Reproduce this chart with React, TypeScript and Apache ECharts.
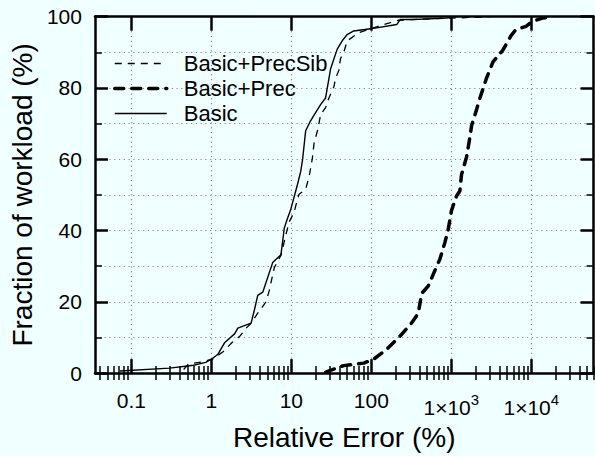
import React, { useEffect, useRef } from 'react';
import * as echarts from 'echarts';

// ---- Data ----
const basicX = [0.072, 0.3, 0.6, 0.85, 1.0, 1.21, 1.46, 1.95, 2.14, 3.14, 3.45, 3.8, 4.39, 5.84, 7.41, 7.78, 8.15, 8.78, 9.85, 11.95, 13.1, 13.8, 15.1, 17.4, 20.1, 23.3, 26.8, 31, 34.1, 37.5, 43.2, 49.9, 60.2, 97.5, 208, 229, 334, 870, 1100];
const basicY = [0.6, 1.4, 2.2, 3.0, 3.9, 5.3, 8.5, 11.0, 12.6, 14, 17.7, 21.8, 22.7, 31, 33.2, 36.9, 40.6, 42.9, 46, 53, 56.6, 59.8, 68, 70.8, 73.1, 75.4, 77.2, 85.4, 88.2, 90.9, 93.2, 95, 96, 96.6, 97.8, 99.2, 99.2, 99.6, 100];

const precSibX = [0.45, 0.52, 0.8, 1.05, 1.4, 1.8, 2.3, 2.72, 3.14, 3.8, 4.82, 5.3, 6.12, 7.4, 8.52, 9.38, 10.8, 11.95, 12.5, 15.1, 16.7, 18.3, 19.2, 21.2, 23.3, 26.8, 29.5, 34.1, 35.7, 39.3, 41.1, 45.2, 49.9, 69.6, 97.5, 142, 217, 400, 1000, 3000];
const precSibY = [1.0, 2.6, 3.2, 4.0, 6.0, 8.5, 10.5, 12.6, 14, 16.8, 20, 23.2, 29.6, 33, 38.7, 42.4, 45.1, 48.8, 50.2, 51.6, 55.2, 60.2, 64.4, 68, 72.6, 74.5, 77.2, 80.4, 82.7, 85, 88.2, 90, 93.2, 95.5, 96.6, 97.8, 99, 99.3, 99.6, 100];

const precX = [27, 45, 80.5, 107, 156, 229, 317, 387, 425, 516, 594, 718, 828, 912, 1005, 1163, 1279, 1343, 1555, 1709, 1793, 2075, 2284, 2750, 3320, 4370, 5560, 6420, 8600, 10400, 13800, 18400];
const precY = [0.3, 2.1, 2.8, 3.9, 6.7, 10.4, 14, 16.8, 22.3, 24.5, 27.7, 31.9, 36.5, 40.1, 45.6, 49.7, 51.1, 55.7, 60.7, 66.2, 69.4, 74, 77.2, 82.7, 87.3, 90.5, 94.6, 96.4, 97.3, 98.7, 99.6, 100];

const seriesNames = ['Basic+PrecSib', 'Basic+Prec', 'Basic'];
const decadeTicks = [0.1, 1, 10, 100, 1000, 10000];
const decadeLabels = ['0.1', '1', '10', '100', '{b|1×10}{s|3}', '{b|1×10}{s|4}'];
const minorDecades = [0.01, 0.1, 1, 10, 100, 1000, 10000];
const minorMultipliers = [2, 3, 4, 5, 6, 7, 8, 9];
const xMin = 0.035;
const xMax = 60000;

const FONT = '"Liberation Sans", Arial, Helvetica, sans-serif';

const zip = (xs: number[], ys: number[]) => xs.map((x, i) => [x, ys[i]]);

export default function App() {
  const ref = useRef<HTMLDivElement>(null);
  useEffect(() => {
    if (!ref.current) return;
    const chart = echarts.init(ref.current, null, { renderer: 'svg' });

    const minorTicks: number[] = [];
    minorDecades.forEach((d) => minorMultipliers.forEach((m) => minorTicks.push(+(d * m).toPrecision(6))));

    const axisLine = { show: true, onZero: false, lineStyle: { color: '#000', width: 2.5 } };
    const dotted = { show: true, lineStyle: { color: '#8a8a8a', width: 1.2, type: [1.2, 3.6] as any } };
    const fmt = (v: number) => {
      const i = decadeTicks.findIndex((d) => Math.abs(Math.log10(d) - Math.log10(v)) < 1e-6);
      return i >= 0 ? decadeLabels[i] : '';
    };

    const styles = [
      { color: '#000', width: 1.3, type: [7, 6] },
      { color: '#000', width: 3.5, type: [9, 8], cap: 'round' },
      { color: '#000', width: 1.4, type: 'solid' },
    ];
    const seriesData = [zip(precSibX, precSibY), zip(precX, precY), zip(basicX, basicY)];

    const baseX = { type: 'log' as const, logBase: 10, min: xMin, max: xMax, gridIndex: 0 };

    const option: any = {
      animation: false,
      backgroundColor: '#f0ffff',
      textStyle: { fontFamily: FONT },
      grid: { left: 92.7, right: 1.5, top: 16.7, bottom: 75, containLabel: false },
      legend: {
        data: seriesNames.map((n, i) => ({ name: n, lineStyle: { ...styles[i] } })),
        orient: 'vertical',
        left: 113,
        top: 51,
        padding: 0,
        itemGap: 0,
        itemWidth: 52,
        itemHeight: 14,
        selectedMode: false,
        itemStyle: { opacity: 0 },
        textStyle: { fontSize: 22, lineHeight: 25, color: '#000', fontFamily: FONT, padding: [0, 0, 0, 12] },
      },
      xAxis: [
        {
          ...baseX,
          position: 'bottom',
          axisLine,
          axisTick: { show: true, inside: true, length: 14, customValues: decadeTicks, lineStyle: { color: '#000', width: 2.5 } },
          axisLabel: {
            show: true,
            customValues: decadeTicks,
            formatter: fmt,
            fontSize: 21,
            margin: 17,
            color: '#000',
            fontFamily: FONT,
            rich: {
              b: { fontSize: 21, fontFamily: FONT, color: '#000', padding: [7, 0, 0, 0], verticalAlign: 'bottom' },
              s: { fontSize: 15, fontFamily: FONT, color: '#000', padding: [2, 0, 0, 0], verticalAlign: 'top' },
            },
          },
          splitLine: dotted,
          minorTick: { show: false },
          name: 'Relative Error (%)',
          nameLocation: 'middle',
          nameGap: 45,
          nameTextStyle: { fontSize: 28, color: '#000', fontFamily: FONT },
        },
        {
          ...baseX,
          position: 'bottom',
          axisLine: { show: false },
          axisTick: { show: true, inside: true, length: 7, customValues: minorTicks, lineStyle: { color: '#000', width: 1.5 } },
          axisLabel: { show: false },
          splitLine: { show: false },
        },
        {
          ...baseX,
          position: 'top',
          axisLine,
          axisTick: { show: true, inside: true, length: 14, customValues: decadeTicks, lineStyle: { color: '#000', width: 2.5 } },
          axisLabel: { show: false },
          splitLine: { show: false },
        },
        {
          ...baseX,
          position: 'top',
          axisLine: { show: false },
          axisTick: { show: true, inside: true, length: 7, customValues: minorTicks, lineStyle: { color: '#000', width: 1.5 } },
          axisLabel: { show: false },
          splitLine: { show: false },
        },
      ],
      yAxis: [
        {
          type: 'value',
          position: 'left',
          min: 0,
          max: 100,
          interval: 20,
          axisLine,
          axisTick: { show: true, inside: true, length: 13, lineStyle: { color: '#000', width: 2.5 } },
          minorTick: { show: true, splitNumber: 2, length: 7, lineStyle: { color: '#000', width: 1.5 } },
          splitLine: dotted,
          minorSplitLine: dotted,
          axisLabel: { fontSize: 21, margin: 13, color: '#000', fontFamily: FONT },
          name: 'Fraction of workload (%)',
          nameLocation: 'middle',
          nameGap: 57,
          nameTextStyle: { fontSize: 28, color: '#000', fontFamily: FONT },
        },
        {
          type: 'value',
          position: 'right',
          min: 0,
          max: 100,
          interval: 20,
          axisLine,
          axisTick: { show: true, inside: true, length: 13, lineStyle: { color: '#000', width: 2.5 } },
          minorTick: { show: true, splitNumber: 2, length: 7, lineStyle: { color: '#000', width: 1.5 } },
          splitLine: { show: false },
          axisLabel: { show: false },
        },
      ],
      series: seriesNames.map((n, i) => ({
        name: n,
        type: 'line',
        xAxisIndex: 0,
        yAxisIndex: 0,
        symbol: 'none',
        showSymbol: false,
        silent: true,
        color: '#000',
        lineStyle: styles[i],
        data: seriesData[i],
      })),
    };
    chart.setOption(option);
    return () => chart.dispose();
  }, []);

  return (
    <div style={{ position: 'fixed', left: 0, top: 0, width: 595, height: 456, background: '#f0ffff' }}>
      <div ref={ref} style={{ width: 595, height: 456 }} />
    </div>
  );
}
